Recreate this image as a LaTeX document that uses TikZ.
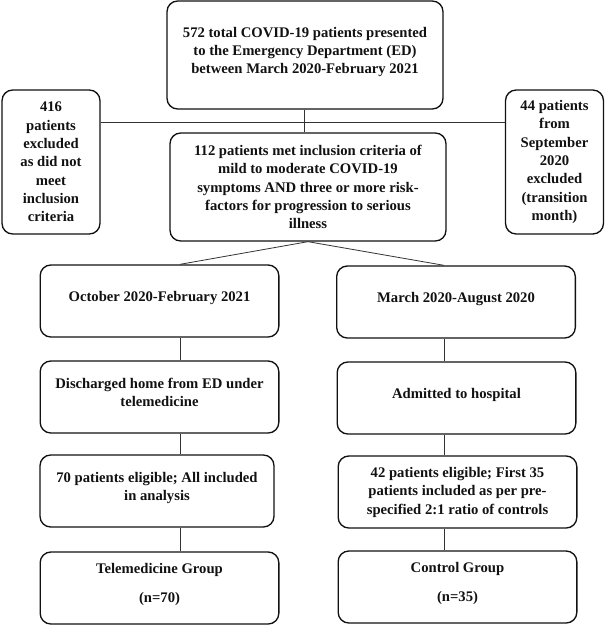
\documentclass[tikz,border=0pt]{standalone}
\usepackage{fontspec}
\setmainfont{Liberation Serif}
\definecolor{ink}{HTML}{111111}
\definecolor{wire}{HTML}{333333}

\begin{document}
\begin{tikzpicture}[
    x=0.75pt, y=-0.75pt,
    font=\bfseries\fontsize{11}{13.7}\selectfont,
    box/.style={draw=ink, line width=1pt, rounded corners=8pt, align=center, text=ink, inner sep=2pt},
    lift/.style={text depth=7pt},
    wide/.style={box, minimum width=207pt, minimum height=81pt},
    side/.style={box, minimum width=73.5pt, minimum height=108pt},
    stage/.style={box, lift, minimum width=179pt, minimum height=54pt},
    wire/.style={draw=wire, line width=0.6pt}
]
\useasboundingbox (0,0) rectangle (605,625);

% Screening and exclusions.
\node[wide, lift] (ed) at (305,55) {572 total COVID-19 patients presented\\to the Emergency Department (ED)\\between March 2020-February 2021};
\node[wide] (incl) at (308,187) {112 patients met inclusion criteria of\\mild to moderate COVID-19\\symptoms AND three or more risk-\\factors for progression to serious\\illness};
\node[side] (nomeet) at (51,162) {416\\patients\\excluded\\as did not\\meet\\inclusion\\criteria};
\node[side] (sept) at (554.5,162) {44 patients\\from\\September\\2020\\excluded\\(transition\\month)};

\coordinate (hub) at (304,122);
\coordinate (colL) at (180,0);
\coordinate (colR) at (444,0);

\draw[wire] (ed.south -| hub) -- (incl.north -| hub);
\draw[wire] (nomeet.east |- hub) -- (sept.west |- hub);

% Telemedicine arm.
\node[stage] (octfeb) at (159.5,301) {October 2020-February 2021};
\node[stage] (home) at (159.5,397) {Discharged home from ED under\\telemedicine};
\node[stage, minimum width=175.5pt] (eligT) at (157,491) {70 patients eligible; All included\\in analysis};
\node[stage] (tele) at (159.5,588) {Telemedicine Group\\[8pt](n=70)};

% Control arm.
\node[stage] (maraug) at (456,302) {March 2020-August 2020};
\node[stage] (hosp) at (456.5,398) {Admitted to hospital};
\node[stage, text depth=2pt] (eligC) at (457.5,492) {42 patients eligible; First 35\\patients included as per pre-\\specified 2:1 ratio of controls};
\node[stage] (ctrl) at (457.5,587) {Control Group\\[8pt](n=35)};

\draw[wire] (incl.south) -- (octfeb.north -| colL);
\draw[wire] (incl.south) -- (maraug.north -| colR);
\draw[wire] (octfeb.south -| colL) -- (home.north -| colL);
\draw[wire] (home.south -| colL) -- (eligT.north -| colL);
\draw[wire] (eligT.south -| colL) -- (tele.north -| colL);
\draw[wire] (maraug.south -| colR) -- (hosp.north -| colR);
\draw[wire] (hosp.south -| colR) -- (eligC.north -| colR);
\draw[wire] (eligC.south -| colR) -- (ctrl.north -| colR);
\end{tikzpicture}
\end{document}
